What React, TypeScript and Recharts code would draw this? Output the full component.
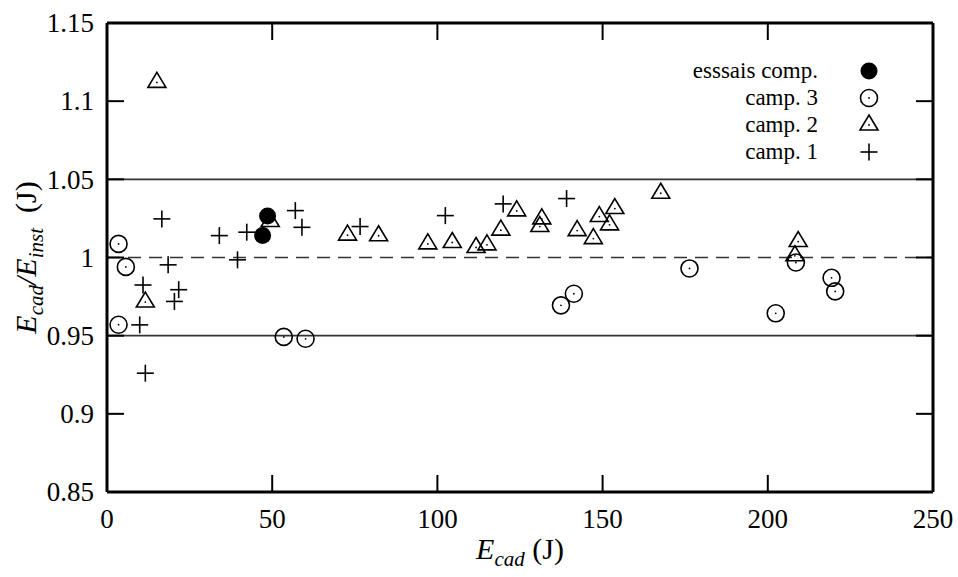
import React from 'react';
import { ScatterChart, Scatter, XAxis, YAxis, ReferenceLine, Legend } from 'recharts';

// points (x = E_cad in J, y = E_cad/E_inst)
const essaisComp = [
  { x: 47.1, y: 1.014 },
  { x: 48.6, y: 1.0266 },
];

const camp3 = [
  { x: 3.5, y: 1.0087 },
  { x: 5.7, y: 0.994 },
  { x: 3.5, y: 0.957 },
  { x: 53.5, y: 0.9492 },
  { x: 60.1, y: 0.948 },
  { x: 137.4, y: 0.9694 },
  { x: 141.3, y: 0.9768 },
  { x: 176.3, y: 0.993 },
  { x: 202.4, y: 0.9643 },
  { x: 208.5, y: 0.9968 },
  { x: 219.3, y: 0.987 },
  { x: 220.4, y: 0.9783 },
];

const camp2 = [
  { x: 15.1, y: 1.112 },
  { x: 11.6, y: 0.9715 },
  { x: 49.4, y: 1.023 },
  { x: 72.8, y: 1.0143 },
  { x: 82.2, y: 1.0139 },
  { x: 97.1, y: 1.0087 },
  { x: 104.5, y: 1.0096 },
  { x: 111.7, y: 1.0064 },
  { x: 115.0, y: 1.0081 },
  { x: 119.2, y: 1.0175 },
  { x: 124.0, y: 1.0298 },
  { x: 131.0, y: 1.0198 },
  { x: 131.6, y: 1.0247 },
  { x: 142.3, y: 1.0172 },
  { x: 147.2, y: 1.0121 },
  { x: 149.0, y: 1.0262 },
  { x: 152.1, y: 1.0209 },
  { x: 153.7, y: 1.0313 },
  { x: 167.6, y: 1.0411 },
  { x: 208.2, y: 1.0011 },
  { x: 209.2, y: 1.0102 },
];

const camp1 = [
  { x: 16.6, y: 1.0247 },
  { x: 18.5, y: 0.9953 },
  { x: 39.5, y: 0.9985 },
  { x: 10.9, y: 0.9824 },
  { x: 21.7, y: 0.9794 },
  { x: 20.4, y: 0.9719 },
  { x: 9.9, y: 0.9569 },
  { x: 11.6, y: 0.926 },
  { x: 34.0, y: 1.014 },
  { x: 42.3, y: 1.0162 },
  { x: 57.0, y: 1.03 },
  { x: 59.0, y: 1.0193 },
  { x: 76.6, y: 1.0198 },
  { x: 102.4, y: 1.0268 },
  { x: 119.9, y: 1.0343 },
  { x: 139.1, y: 1.0377 },
];

const xTicks = [0, 50, 100, 150, 200, 250];
const yTicks = [0.85, 0.9, 0.95, 1, 1.05, 1.1, 1.15];

const legendItems = [
  { label: 'esssais comp.', kind: 'filled' },
  { label: 'camp. 3', kind: 'circle' },
  { label: 'camp. 2', kind: 'triangle' },
  { label: 'camp. 1', kind: 'plus' },
];

const W = 958;
const H = 577;
const margin = { top: 23, right: 25, bottom: 45, left: 47 };
const Y_AXIS_W = 60;
const X_AXIS_H = 40;
const PLOT_LEFT = margin.left + Y_AXIS_W;
const PLOT_RIGHT = W - margin.right;
const PLOT_TOP = margin.top;
const PLOT_BOTTOM = H - margin.bottom - X_AXIS_H;
const TICK = 17;
const txt = { fontFamily: "'Liberation Serif', serif", fontSize: 27, fill: '#000' };
const title = { ...txt, fontSize: 30 };
const legendTxt = { ...txt, fontSize: 23 };

function marker(kind: string, cx: number, cy: number) {
  const sw = 1.6;
  if (kind === 'filled') return <circle cx={cx} cy={cy} r={8.5} fill="#000" />;
  if (kind === 'circle')
    return (
      <g>
        <circle cx={cx} cy={cy} r={8.5} fill="none" stroke="#000" strokeWidth={sw} />
        <circle cx={cx} cy={cy} r={0.9} fill="#000" />
      </g>
    );
  if (kind === 'triangle')
    return (
      <g>
        <path d={`M${cx},${cy - 10} L${cx + 9},${cy + 5} L${cx - 9},${cy + 5} Z`} fill="none" stroke="#000" strokeWidth={sw} />
        <circle cx={cx} cy={cy} r={0.9} fill="#000" />
      </g>
    );
  return (
    <g stroke="#000" strokeWidth={sw}>
      <line x1={cx - 8.5} x2={cx + 8.5} y1={cy} y2={cy} />
      <line x1={cx} x2={cx} y1={cy - 8.5} y2={cy + 8.5} />
    </g>
  );
}

const shapeOf = (kind: string) => (props: any) => marker(kind, props.cx, props.cy);

const XTick = (props: any) => {
  const { x, y, payload } = props;
  return (
    <g>
      <line x1={x} x2={x} y1={PLOT_BOTTOM} y2={PLOT_BOTTOM - TICK} stroke="#000" strokeWidth={2} />
      <line x1={x} x2={x} y1={PLOT_TOP} y2={PLOT_TOP + TICK} stroke="#000" strokeWidth={2} />
      <text x={x} y={y} dy="0.71em" textAnchor="middle" style={txt}>
        {payload.value}
      </text>
    </g>
  );
};

const YTick = (props: any) => {
  const { x, y, payload } = props;
  return (
    <g>
      <line x1={PLOT_LEFT} x2={PLOT_LEFT + TICK} y1={y} y2={y} stroke="#000" strokeWidth={2} />
      <line x1={PLOT_RIGHT} x2={PLOT_RIGHT - TICK} y1={y} y2={y} stroke="#000" strokeWidth={2} />
      <text x={x} y={y} dy="0.34em" textAnchor="end" style={txt}>
        {payload.value}
      </text>
    </g>
  );
};

const XTitle = () => (
  <text x={(PLOT_LEFT + PLOT_RIGHT) / 2} y={559} textAnchor="middle" style={title}>
    <tspan fontStyle="italic">E</tspan>
    <tspan fontStyle="italic" fontSize={21} dy={7}>cad</tspan>
    <tspan dy={-7}> (J)</tspan>
  </text>
);

const YTitle = () => (
  <text
    x={0}
    y={0}
    transform={`translate(36, ${(PLOT_TOP + PLOT_BOTTOM) / 2}) rotate(-90)`}
    textAnchor="middle"
    style={title}
  >
    <tspan fontStyle="italic">E</tspan>
    <tspan fontStyle="italic" fontSize={21} dy={7}>cad</tspan>
    <tspan dy={-7} fontStyle="italic">/E</tspan>
    <tspan fontStyle="italic" fontSize={21} dy={7}>inst</tspan>
    <tspan dy={-7}>{'\u00a0\u00a0(J)'}</tspan>
  </text>
);

const LegendBox = () => (
  <svg width={330} height={135} style={{ display: 'block' }}>
    {legendItems.map((it, i) => {
      const cy = 21 + i * 27;
      return (
        <g key={it.label}>
          <text x={258} y={cy + 7} textAnchor="end" style={legendTxt}>
            {it.label}
          </text>
          {marker(it.kind, 309, cy)}
        </g>
      );
    })}
  </svg>
);

export default function App() {
  return (
    <div style={{ position: 'absolute', left: 0, top: 0, width: W, height: H, background: '#fff' }}>
      <ScatterChart width={W} height={H} margin={margin}>
        <XAxis
          type="number"
          dataKey="x"
          domain={[0, 250]}
          ticks={xTicks}
          interval={0}
          height={X_AXIS_H}
          tickSize={0}
          tickMargin={17}
          tick={<XTick />}
          axisLine={{ stroke: '#000', strokeWidth: 3 }}
          label={<XTitle />}
        />
        <YAxis
          type="number"
          dataKey="y"
          domain={[0.85, 1.15]}
          ticks={yTicks}
          interval={0}
          width={Y_AXIS_W}
          tickSize={0}
          tickMargin={13}
          tick={<YTick />}
          axisLine={{ stroke: '#000', strokeWidth: 3 }}
          label={<YTitle />}
        />
        <ReferenceLine y={1.15} stroke="#000" strokeWidth={3} />
        <ReferenceLine x={250} stroke="#000" strokeWidth={3} />
        <ReferenceLine y={1.05} stroke="#333" strokeWidth={1.6} />
        <ReferenceLine y={0.95} stroke="#333" strokeWidth={1.6} />
        <ReferenceLine y={1} stroke="#333" strokeWidth={1.6} strokeDasharray="13 8" />
        <Legend
          layout="horizontal"
          verticalAlign="middle"
          align="center"
          content={<LegendBox />}
          wrapperStyle={{ left: 560, top: 50, width: 330, height: 135 }}
        />
        <Scatter name="camp. 1" data={camp1} shape={shapeOf('plus')} isAnimationActive={false} />
        <Scatter name="camp. 2" data={camp2} shape={shapeOf('triangle')} isAnimationActive={false} />
        <Scatter name="camp. 3" data={camp3} shape={shapeOf('circle')} isAnimationActive={false} />
        <Scatter name="esssais comp." data={essaisComp} shape={shapeOf('filled')} isAnimationActive={false} />
      </ScatterChart>
    </div>
  );
}
